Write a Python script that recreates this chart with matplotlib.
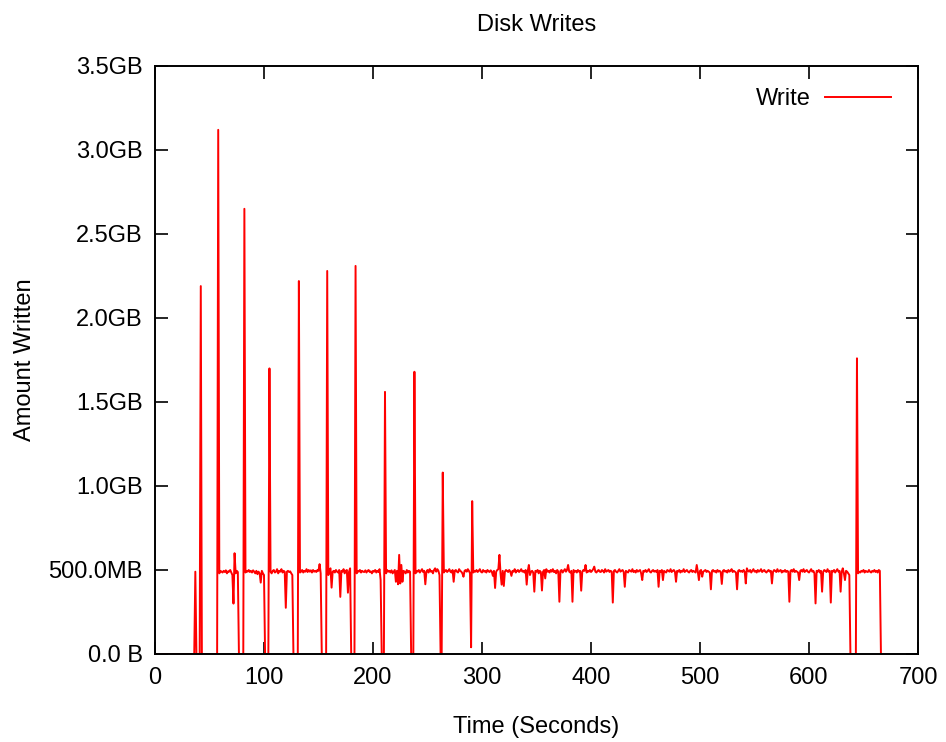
import numpy as np
import matplotlib
matplotlib.use("Agg")
import matplotlib.pyplot as plt

plt.rcParams["font.family"] = ["Liberation Sans", "DejaVu Sans"]

# MB written per second, one row of 20 seconds per line (row start in comment)
write_mb = [
    0, 0, 0, 0, 0, 0, 0, 0, 0, 0, 0, 0, 0, 0, 0, 0, 0, 0, 0, 0,  # 0
    0, 0, 0, 0, 0, 0, 0, 0, 0, 0, 0, 0, 0, 0, 0, 0, 0, 490, 0, 0,  # 20
    0, 0, 2190, 0, 0, 0, 0, 0, 0, 0, 0, 0, 0, 0, 0, 0, 0, 0, 3120, 480,  # 40
    495, 490, 485, 495, 488, 498, 480, 492, 490, 500, 485, 470, 300, 600, 480, 495, 488, 0, 0, 0,  # 60
    0, 0, 2650, 485, 495, 490, 500, 488, 495, 485, 498, 490, 480, 495, 475, 490, 480, 425, 495, 480,  # 80
    470, 0, 0, 0, 0, 1700, 490, 480, 495, 500, 485, 490, 505, 480, 495, 490, 505, 485, 495, 490,  # 100
    275, 490, 495, 488, 492, 480, 470, 0, 0, 0, 0, 0, 2220, 485, 490, 500, 485, 495, 490, 505,  # 120
    488, 500, 490, 498, 485, 500, 490, 495, 488, 500, 495, 535, 480, 0, 0, 0, 0, 0, 2280, 470,  # 140
    500, 510, 395, 490, 495, 485, 500, 490, 485, 500, 340, 495, 490, 505, 480, 495, 500, 365, 490, 510,  # 160
    0, 0, 0, 0, 2310, 480, 495, 490, 500, 485, 495, 490, 488, 498, 485, 495, 500, 488, 492, 480,  # 180
    495, 490, 500, 485, 495, 488, 505, 440, 0, 0, 0, 1560, 480, 500, 490, 495, 485, 498, 480, 490,  # 200
    500, 430, 495, 415, 590, 420, 530, 430, 495, 490, 480, 500, 485, 495, 490, 0, 0, 0, 1680, 480,  # 220
    495, 490, 500, 485, 495, 505, 488, 495, 415, 490, 500, 485, 505, 490, 495, 480, 500, 510, 490, 505,  # 240
    495, 470, 0, 0, 1080, 485, 495, 500, 488, 495, 505, 490, 485, 500, 430, 495, 500, 490, 485, 505,  # 260
    495, 490, 480, 460, 495, 500, 490, 505, 495, 480, 40, 910, 485, 495, 490, 500, 488, 495, 505, 490,  # 280
    485, 500, 490, 495, 485, 500, 492, 488, 498, 490, 465, 495, 393, 490, 500, 505, 590, 480, 413, 495,  # 300
    405, 490, 500, 495, 488, 500, 490, 465, 495, 490, 505, 485, 495, 500, 488, 495, 505, 490, 495, 485,  # 320
    500, 413, 495, 530, 470, 490, 495, 485, 371, 495, 490, 500, 480, 495, 488, 378, 490, 500, 450, 505,  # 340
    490, 495, 485, 500, 490, 505, 488, 495, 480, 500, 490, 311, 495, 500, 485, 495, 505, 490, 500, 530,  # 360
    490, 485, 495, 311, 500, 490, 495, 485, 500, 490, 495, 377, 490, 500, 495, 530, 485, 495, 490, 500,  # 380
    488, 495, 505, 520, 490, 485, 495, 500, 490, 488, 500, 495, 485, 505, 490, 495, 500, 488, 495, 490,  # 400
    306, 495, 500, 490, 485, 495, 505, 490, 495, 500, 488, 400, 495, 490, 485, 500, 495, 490, 505, 488,  # 420
    495, 485, 500, 490, 495, 500, 480, 440, 495, 490, 500, 488, 495, 505, 490, 485, 495, 500, 490, 495,  # 440
    488, 500, 400, 495, 490, 500, 440, 495, 490, 485, 500, 495, 490, 505, 488, 495, 500, 490, 430, 495,  # 460
    490, 500, 485, 495, 490, 505, 488, 495, 500, 490, 485, 495, 500, 488, 495, 490, 485, 530, 490, 440,  # 480
    495, 500, 460, 490, 495, 500, 488, 495, 490, 485, 385, 495, 500, 490, 495, 485, 500, 490, 495, 488,  # 500
    417, 495, 500, 490, 495, 485, 500, 490, 495, 505, 488, 495, 490, 485, 385, 495, 500, 490, 495, 488,  # 520
    500, 490, 420, 510, 495, 490, 500, 485, 495, 505, 490, 495, 485, 500, 490, 495, 505, 488, 495, 500,  # 540
    490, 485, 495, 500, 490, 495, 420, 490, 500, 495, 488, 505, 490, 495, 500, 485, 495, 490, 500, 488,  # 560
    495, 490, 311, 495, 500, 490, 505, 488, 495, 490, 485, 440, 495, 500, 490, 505, 488, 495, 500, 490,  # 580
    485, 495, 505, 490, 495, 480, 301, 495, 490, 500, 485, 495, 371, 490, 500, 495, 488, 505, 490, 495,  # 600
    306, 495, 490, 500, 485, 495, 505, 490, 495, 371, 490, 510, 480, 440, 495, 490, 480, 470, 0, 0,  # 620
    0, 0, 0, 0, 1760, 480, 490, 485, 495, 490, 500, 485, 495, 490, 488, 500, 490, 485, 495, 490,  # 640
    500, 488, 495, 485, 500, 495, 0,  # 660
]
seconds = np.arange(len(write_mb))

x_ticks = [0, 100, 200, 300, 400, 500, 600, 700]
y_ticks = [0, 500, 1000, 1500, 2000, 2500, 3000, 3500]
y_labels = ["0.0 B", "500.0MB", "1.0GB", "1.5GB", "2.0GB", "2.5GB", "3.0GB", "3.5GB"]

fig = plt.figure(figsize=(9.46, 7.42), dpi=100)
ax = fig.add_axes([155 / 946, 1 - 654 / 742, (918 - 155) / 946, (654 - 66) / 742])

ax.plot(seconds, write_mb, color="#ff0000", lw=1.4, label="Write")

ax.set_xlim(0, 700)
ax.set_ylim(0, 3500)
ax.set_xticks(x_ticks)
ax.set_yticks(y_ticks)
ax.set_yticklabels(y_labels)
ax.tick_params(direction="in", length=9, width=1.2, labelsize=17,
               top=True, right=True, pad=9)
for s in ax.spines.values():
    s.set_linewidth(1.4)

ax.set_title("Disk Writes", fontsize=17, pad=25)
ax.set_xlabel("Time (Seconds)", fontsize=17, labelpad=20)
ax.set_ylabel("Amount Written", fontsize=17, labelpad=9)

ax.legend(loc="upper right", frameon=False, fontsize=17, markerfirst=False,
          handlelength=2.8, handletextpad=0.6, borderaxespad=0.4,
          bbox_to_anchor=(0.99, 0.995))

fig.savefig("out.png", dpi=100)
